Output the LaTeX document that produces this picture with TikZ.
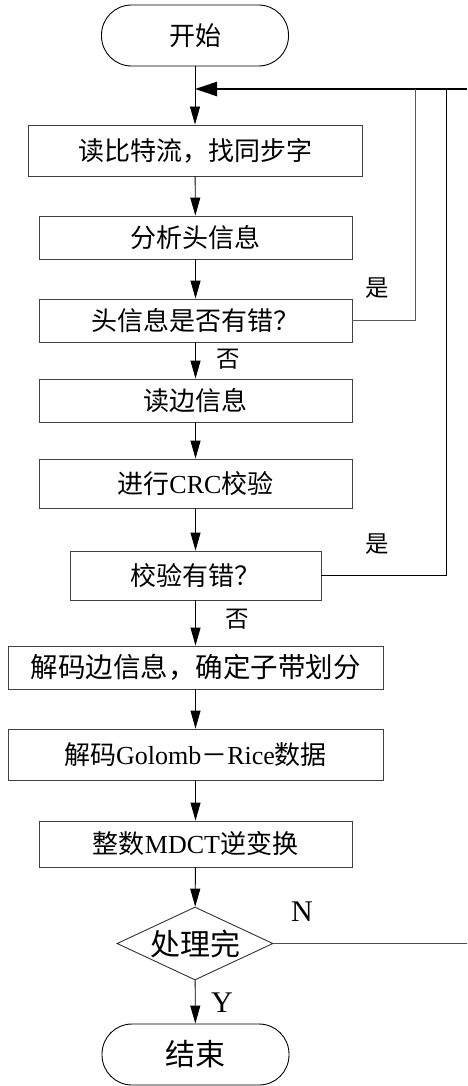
\documentclass[tikz,border=0pt]{standalone}
\usepackage{fontspec}
\setmainfont{Liberation Serif}
\newfontfamily\cjk{Noto Sans CJK SC}
\usetikzlibrary{shapes.geometric,arrows.meta}
\newcommand\zhtext[1]{{\cjk #1}}
\begin{document}
\begin{tikzpicture}[x=1pt,y=-1pt,
  box/.style={draw=black!75,line width=0.9pt,rectangle,inner sep=0pt,
    font=\fontsize{26}{30}\selectfont},
  term/.style={draw=black,line width=0.9pt,rectangle,rounded corners=30pt,
    minimum width=187pt,minimum height=61pt,inner sep=0pt},
  dec/.style={draw=black!80,line width=0.9pt,diamond,aspect=2.137,inner sep=0pt,
    minimum width=156pt,minimum height=73pt,font=\fontsize{30}{34}\selectfont},
  flow/.style={line width=0.9pt,-{Triangle[length=18pt,width=10pt]}},
  back/.style={line width=2.5pt,-{Triangle[length=22pt,width=14pt]}},
  loopline/.style={line width=0.9pt},
  lbl/.style={inner sep=0pt,font=\fontsize{23.5}{26}\selectfont},
  yn/.style={inner sep=0pt,font=\fontsize{30}{34}\selectfont}]
\useasboundingbox (0,0) rectangle (467,1086);
\fill[white] (0,0) rectangle (467,1086);

\node[term,font=\fontsize{26}{30}\selectfont] (start) at (195,35.5) {\zhtext{开始}};
\node[box,minimum width=334pt,minimum height=51pt] (b1) at (195,150.5) {\zhtext{读比特流，找同步字}};
\node[box,minimum width=313pt,minimum height=43pt] (b2) at (195.5,237.5) {\zhtext{分析头信息}};
\node[box,minimum width=313pt,minimum height=43pt] (b3) at (195.5,320.5) {\zhtext{头信息是否有错？}};
\node[box,minimum width=313pt,minimum height=43pt] (b4) at (195.5,400.5) {\zhtext{读边信息}};
\node[box,minimum width=313pt,minimum height=49pt] (b5) at (195.5,483.5) {\zhtext{进行}CRC\zhtext{校验}};
\node[box,minimum width=251pt,minimum height=49pt] (b6) at (195.5,575.5) {\zhtext{校验有错？}};
\node[box,minimum width=375pt,minimum height=43pt,font=\fontsize{27.5}{30}\selectfont] (b7) at (195.5,667.5) {\zhtext{解码边信息，确定子带划分}};
\node[box,minimum width=375pt,minimum height=51pt] (b8) at (195.5,754.5) {\zhtext{解码}Golomb\zhtext{－}Rice\zhtext{数据}};
\node[box,minimum width=313pt,minimum height=46pt] (b9) at (195.5,844) {\zhtext{整数}MDCT\zhtext{逆变换}};
\node[dec] (d) at (195,943.5) {\zhtext{处理完}};
\node[term,font=\fontsize{30}{34}\selectfont] (end) at (195.5,1054.5) {\zhtext{结束}};

\coordinate (j) at (195,89);
\coordinate (fbR) at (467,89);
\coordinate (c1) at (415,89);
\coordinate (c2) at (446,89);
\coordinate (nR) at (467,943.5);

\draw[flow] (start.south) -- (b1.north);
\draw[back] (fbR) -- (j);
\draw[flow] (b1) -- (b2);
\draw[flow] (b2) -- (b3);
\draw[flow] (b3) -- (b4);
\draw[flow] (b4) -- (b5);
\draw[flow] (b5) -- (b6);
\draw[flow] (b6) -- (b7);
\draw[flow] (b7) -- (b8);
\draw[flow] (b8) -- (b9);
\draw[flow] (b9) -- (d);
\draw[flow] (d) -- (end);
\draw[loopline,draw=black!65] (b3.east) -| (c1);
\draw[loopline] (b6.east) -| (c2);
\draw[loopline,draw=black!70] (d.east) -- (nR);

\node[lbl] (y1) at (377,288) {\zhtext{是}};
\node[lbl] (n1) at (228,359) {\zhtext{否}};
\node[lbl] (y2) at (377,544) {\zhtext{是}};
\node[lbl] (n2) at (237,619) {\zhtext{否}};
\node[yn] (N) at (302,912) {N};
\node[yn] (Y) at (222,1003) {Y};
\end{tikzpicture}
\end{document}
